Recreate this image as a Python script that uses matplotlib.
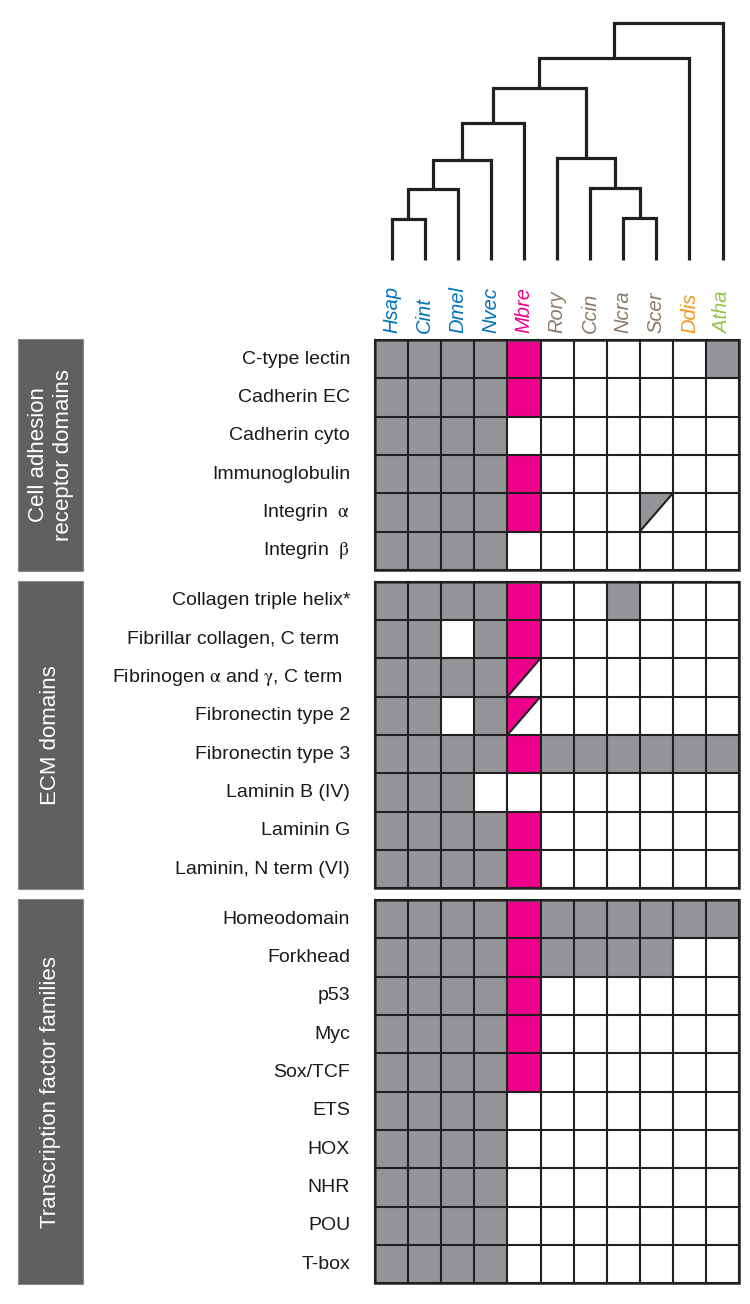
import matplotlib.pyplot as plt
from matplotlib.patches import Rectangle, Polygon

plt.rcParams['font.family'] = ['Liberation Sans', 'DejaVu Sans']
plt.rcParams['mathtext.fontset'] = 'stix'

species = ["Hsap", "Cint", "Dmel", "Nvec", "Mbre", "Rory", "Ccin", "Ncra", "Scer", "Ddis", "Atha"]
species_colors = ["#0072bc", "#0072bc", "#0072bc", "#0072bc", "#ec008c",
                  "#8c7867", "#8c7867", "#8c7867", "#8c7867", "#f7941d", "#8dc63f"]

# tree merges: (left, right, height); ints refer to earlier merges
merges = [
    ("Hsap", "Cint", 41),
    (0, "Dmel", 71),
    (1, "Nvec", 100),
    (2, "Mbre", 137),
    ("Ncra", "Scer", 42),
    ("Ccin", 4, 72),
    ("Rory", 5, 102),
    (3, 6, 172),
    (7, "Ddis", 202),
    (8, "Atha", 237),
]

section_names = ["Cell adhesion\nreceptor domains", "ECM domains", "Transcription factor families"]

# 0 = absent, 1 = present, 2 = present in Mbre, 3 = partial
adhesion_rows = ["C-type lectin", "Cadherin EC", "Cadherin cyto", "Immunoglobulin",
                 "Integrin  $\\mathrm{\\alpha}$", "Integrin  $\\mathrm{\\beta}$"]
adhesion_vals = [
    [1, 1, 1, 1, 2, 0, 0, 0, 0, 0, 1],
    [1, 1, 1, 1, 2, 0, 0, 0, 0, 0, 0],
    [1, 1, 1, 1, 0, 0, 0, 0, 0, 0, 0],
    [1, 1, 1, 1, 2, 0, 0, 0, 0, 0, 0],
    [1, 1, 1, 1, 2, 0, 0, 0, 3, 0, 0],
    [1, 1, 1, 1, 0, 0, 0, 0, 0, 0, 0],
]

ecm_rows = ["Collagen triple helix*", "Fibrillar collagen, C term  ",
            "Fibrinogen $\\mathrm{\\alpha}$ and $\\mathrm{\\gamma}$, C term  ", "Fibronectin type 2",
            "Fibronectin type 3", "Laminin B (IV)", "Laminin G", "Laminin, N term (VI)"]
ecm_vals = [
    [1, 1, 1, 1, 2, 0, 0, 1, 0, 0, 0],
    [1, 1, 0, 1, 2, 0, 0, 0, 0, 0, 0],
    [1, 1, 1, 1, 3, 0, 0, 0, 0, 0, 0],
    [1, 1, 0, 1, 3, 0, 0, 0, 0, 0, 0],
    [1, 1, 1, 1, 2, 1, 1, 1, 1, 1, 1],
    [1, 1, 1, 0, 0, 0, 0, 0, 0, 0, 0],
    [1, 1, 1, 1, 2, 0, 0, 0, 0, 0, 0],
    [1, 1, 1, 1, 2, 0, 0, 0, 0, 0, 0],
]

tf_rows = ["Homeodomain", "Forkhead", "p53", "Myc", "Sox/TCF", "ETS", "HOX", "NHR", "POU", "T-box"]
tf_vals = [
    [1, 1, 1, 1, 2, 1, 1, 1, 1, 1, 1],
    [1, 1, 1, 1, 2, 1, 1, 1, 1, 0, 0],
    [1, 1, 1, 1, 2, 0, 0, 0, 0, 0, 0],
    [1, 1, 1, 1, 2, 0, 0, 0, 0, 0, 0],
    [1, 1, 1, 1, 2, 0, 0, 0, 0, 0, 0],
    [1, 1, 1, 1, 0, 0, 0, 0, 0, 0, 0],
    [1, 1, 1, 1, 0, 0, 0, 0, 0, 0, 0],
    [1, 1, 1, 1, 0, 0, 0, 0, 0, 0, 0],
    [1, 1, 1, 1, 0, 0, 0, 0, 0, 0, 0],
    [1, 1, 1, 1, 0, 0, 0, 0, 0, 0, 0],
]

sections = [(adhesion_rows, adhesion_vals), (ecm_rows, ecm_vals), (tf_rows, tf_vals)]

gray = "#939598"
magenta = "#ec008c"
line_col = "#231f20"

# layout in pixels
gx0, cw = 375, 33.1
top, rh, gap = 340, 38.3, 12
leaf_y = 260

fig = plt.figure(figsize=(7.5, 13.04), dpi=100)
ax = fig.add_axes([0, 0, 1, 1])
ax.set_xlim(0, 750)
ax.set_ylim(1304, 0)
ax.axis('off')

# dendrogram
pos = {s: gx0 + cw * (i + 0.5) for i, s in enumerate(species)}
hts = {s: 0 for s in species}
for k, (a, b, h) in enumerate(merges):
    xa, xb = pos[a], pos[b]
    ya, yb = leaf_y - hts[a], leaf_y - hts[b]
    yh = leaf_y - h
    ax.plot([xa, xa, xb, xb], [ya, yh, yh, yb], color=line_col, lw=2.3,
            solid_joinstyle='miter', solid_capstyle='butt')
    pos[k] = (xa + xb) / 2
    hts[k] = h

for i, s in enumerate(species):
    ax.text(gx0 + cw * (i + 0.5), 333, s, rotation=90, ha='center', va='bottom',
            fontsize=14.5, style='italic', color=species_colors[i])

y0 = top
for name, (rows, vals) in zip(section_names, sections):
    n = len(rows)
    h = n * rh
    # side label box
    ax.add_patch(Rectangle((18, y0 - 1), 65, h + 2, facecolor="#5f6062", edgecolor="#8a8b8d", lw=0.8))
    ax.text(51, y0 + h / 2, name, rotation=90, ha='center', va='center', color='white',
            fontsize=16, linespacing=1.3, multialignment='center')
    for r in range(n):
        yc = y0 + r * rh
        ax.text(350, yc + rh / 2, rows[r], ha='right', va='center', fontsize=14, color="#1a1a1a")
        for c in range(len(species)):
            v = vals[r][c]
            xc = gx0 + c * cw
            fill = magenta if c == species.index("Mbre") else gray
            if v in (1, 2):
                ax.add_patch(Rectangle((xc, yc), cw, rh, facecolor=fill, edgecolor='none'))
            elif v == 3:
                ax.add_patch(Polygon([(xc, yc), (xc + cw, yc), (xc, yc + rh)],
                                     closed=True, facecolor=fill, edgecolor='none'))
                ax.plot([xc, xc + cw], [yc + rh, yc], color=line_col, lw=1.5)
    for r in range(n + 1):
        ax.plot([gx0, gx0 + cw * len(species)], [y0 + r * rh] * 2, color=line_col, lw=1.5)
    for c in range(len(species) + 1):
        ax.plot([gx0 + c * cw] * 2, [y0, y0 + h], color=line_col, lw=1.5)
    ax.add_patch(Rectangle((gx0, y0), cw * len(species), h, facecolor='none',
                           edgecolor="#4d4d4f", lw=2))
    y0 += h + gap

fig.savefig("out.png", dpi=100)
